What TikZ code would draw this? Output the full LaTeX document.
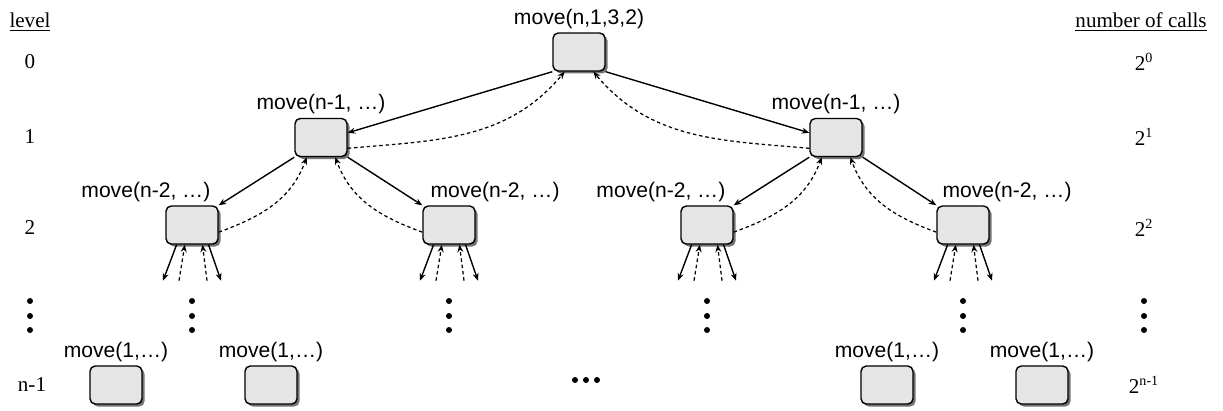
\documentclass[tikz,border=0pt]{standalone}
\usepackage{fontspec}
\setmainfont{Liberation Serif}
\newfontfamily\callfont{Liberation Sans}
\usetikzlibrary{arrows.meta, positioning, calc, shadows}

\begin{document}
\begin{tikzpicture}[>={Stealth[length=1.5mm, width=1.2mm]},
  callbox/.style={fill=gray!20, draw=black, line width=0.8pt, rounded corners=3pt,
                  minimum width=1.04cm, minimum height=0.76cm, inner sep=0pt,
                  drop shadow={shadow xshift=0.05cm, shadow yshift=-0.05cm, opacity=0.55, fill=black}},
  calllabel/.style={font=\callfont\fontsize{12}{14}\selectfont, inner sep=0pt},
  sidetext/.style={font=\fontsize{12}{14}\selectfont, inner sep=0pt},
  callarrow/.style={->, line width=0.8pt},
  backarrow/.style={->, line width=0.7pt, dash pattern=on 2pt off 1.6pt}
]

% Frame
\useasboundingbox (0,0) rectangle (24.46,-8.2);

% Column headers
\node[sidetext] (levelhd) at (0.6,-0.44) {\underline{level}};
\node[sidetext, anchor=east] (callshd) at (24.14,-0.44) {\underline{number of calls}};

% Level numbers
\node[sidetext] (lv0) at (0.6,-1.24) {0};
\node[sidetext] (lv1) at (0.6,-2.74) {1};
\node[sidetext] (lv2) at (0.6,-4.56) {2};
\node[sidetext] (lvn) at (0.64,-7.7) {n-1};

% Number of calls
\node[sidetext] (c0) at (22.88,-1.24) {2\textsuperscript{0}};
\node[sidetext] (c1) at (22.88,-2.74) {2\textsuperscript{1}};
\node[sidetext] (c2) at (22.88,-4.56) {2\textsuperscript{2}};
\node[sidetext] (cn) at (22.88,-7.7) {2\textsuperscript{n-1}};

% Root call
\node[callbox] (root) at (11.58,-1.04) {};
\node[calllabel, above=2pt of root] (rootlbl) {move(n,1,3,2)};

% Level 1
\node[callbox] (l1a) at (6.42,-2.75) {};
\node[callbox] (l1b) at (16.72,-2.75) {};
\node[calllabel, above=2pt of l1a] (l1albl) {move(n-1, …)};
\node[calllabel, above=2pt of l1b] (l1blbl) {move(n-1, …)};

% Level 2
\node[callbox] (l2a) at (3.84,-4.5) {};
\node[callbox] (l2b) at (8.98,-4.5) {};
\node[callbox] (l2c) at (14.14,-4.5) {};
\node[callbox] (l2d) at (19.26,-4.5) {};
\node[calllabel, above left=2pt and 0.16cm of l2a.north east] (l2albl) {move(n-2, …)};
\node[calllabel, above right=2pt and 0.16cm of l2b.north west] (l2blbl) {move(n-2, …)};
\node[calllabel, above left=2pt and 0.16cm of l2c.north east] (l2clbl) {move(n-2, …)};
\node[calllabel, above right=2pt and 0.12cm of l2d.north west] (l2dlbl) {move(n-2, …)};

% Level n-1
\node[callbox] (b1) at (2.32,-7.7) {};
\node[callbox] (b2) at (5.42,-7.7) {};
\node[callbox] (b3) at (17.74,-7.7) {};
\node[callbox] (b4) at (20.84,-7.7) {};
\node[calllabel, above=2pt of b1] (b1lbl) {move(1,…)};
\node[calllabel, above=2pt of b2] (b2lbl) {move(1,…)};
\node[calllabel, above=2pt of b3] (b3lbl) {move(1,…)};
\node[calllabel, above=2pt of b4] (b4lbl) {move(1,…)};

% Calls going down
\draw[callarrow] (root.south west) -- (l1a.10);
\draw[callarrow] (root.south east) -- (l1b.170);
\draw[callarrow] (l1a.south west) -- (l2a.north east);
\draw[callarrow] (l1a.south east) -- (l2b.north west);
\draw[callarrow] (l1b.south west) -- (l2c.north east);
\draw[callarrow] (l1b.south east) -- (l2d.north west);

% Returns going up
\draw[backarrow] (l1a.-22) to[out=5, in=-130] (root.-126);
\draw[backarrow] (l1b.202) to[out=175, in=-50] (root.-54);
\draw[backarrow] (l2a.-15) to[out=20, in=-110] (l1a.-126);
\draw[backarrow] (l2b.195) to[out=160, in=-70] (l1a.-54);
\draw[backarrow] (l2c.-15) to[out=20, in=-110] (l1b.-126);
\draw[backarrow] (l2d.195) to[out=160, in=-70] (l1b.-54);

% Stubs below level 2
\foreach \n in {l2a,l2b,l2c,l2d}{
  \coordinate (\n-sl) at ($(\n.south)+(-0.58,-0.72)$);
  \coordinate (\n-dl) at ($(\n.south)+(-0.26,-0.72)$);
  \coordinate (\n-dr) at ($(\n.south)+(0.3,-0.72)$);
  \coordinate (\n-sr) at ($(\n.south)+(0.58,-0.72)$);
  \draw[callarrow] (\n.-128) -- (\n-sl);
  \draw[backarrow] (\n-dl) -- (\n.-110);
  \draw[backarrow] (\n-dr) -- (\n.-62);
  \draw[callarrow] (\n.-50) -- (\n-sr);
}

% Vertical dots
\foreach \x in {0.6,3.84,8.98,14.14,19.26,22.88}
  \foreach \y in {-6.02,-6.32,-6.6}
    \fill (\x,\y) circle (0.06);

% Horizontal dots
\foreach \x in {11.5,11.72,11.94}
  \fill (\x,-7.6) circle (0.06);

\end{tikzpicture}
\end{document}
